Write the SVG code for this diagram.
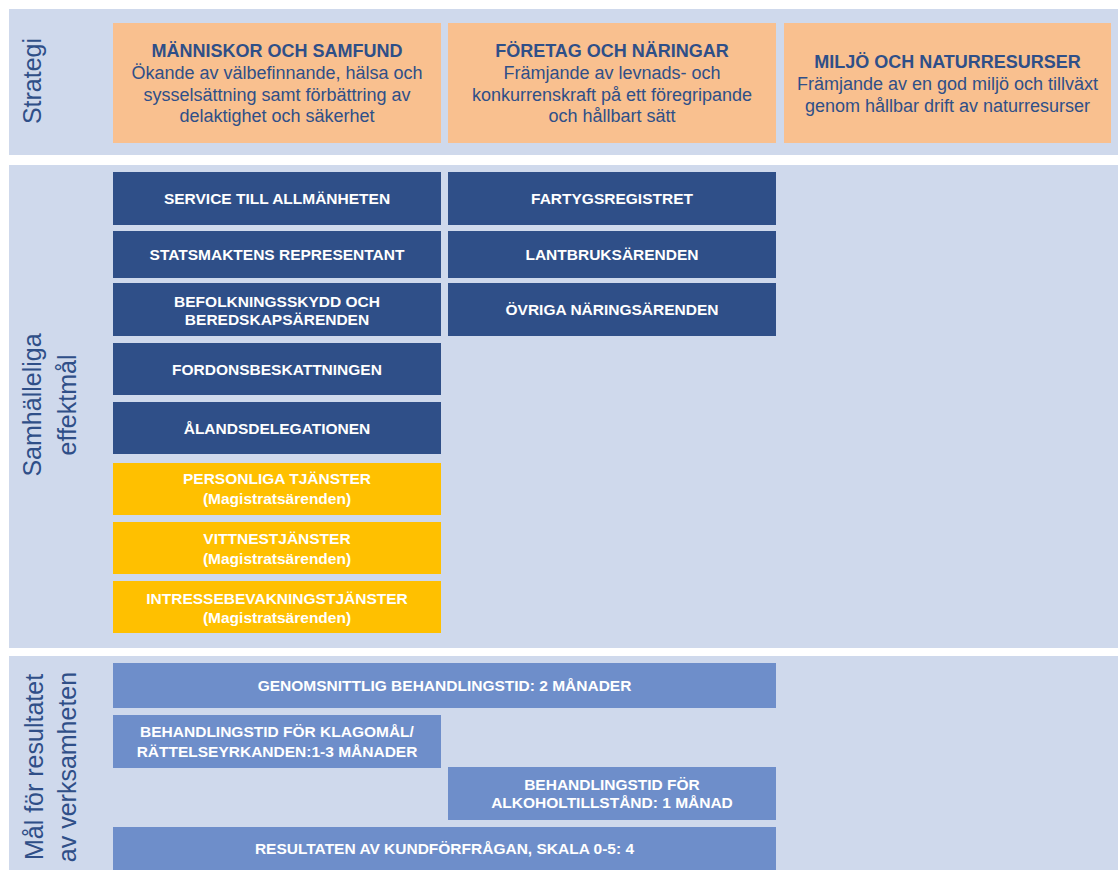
<svg xmlns="http://www.w3.org/2000/svg" width="1118" height="870" viewBox="0 0 1118 870">
<style>
text{font-family:"Liberation Sans",Arial,sans-serif}
.panel{fill:#CFD9EC}
.side{fill:#2F4F88;font-size:25px;text-anchor:middle}
.org{fill:#F9C08F}
.oT{fill:#2F4F88;font-size:18px;font-weight:bold;text-anchor:middle}
.oB{fill:#2F4F88;font-size:18px;text-anchor:middle}
.dk{fill:#2F4F88}
.yl{fill:#FFC000}
.md{fill:#6E8ECA}
.bt{fill:#FFFFFF;font-size:15.5px;font-weight:bold;text-anchor:middle}
</style>
<g id="panels">
<rect class="panel" x="9" y="9" width="1109" height="146"/>
<rect class="panel" x="9" y="165" width="1109" height="483"/>
<rect class="panel" x="9" y="656" width="1109" height="214"/>
</g>
<g id="label-strategi"><text class="side" transform="translate(41,81) rotate(-90)">Strategi</text></g>
<g id="label-effektmal">
<text class="side" transform="translate(41,405) rotate(-90)">Samhälleliga</text>
<text class="side" transform="translate(76,405) rotate(-90)">effektmål</text>
</g>
<g id="label-resultat">
<text class="side" transform="translate(43,767) rotate(-90)">Mål för resultatet</text>
<text class="side" transform="translate(76,767) rotate(-90)">av verksamheten</text>
</g>
<g id="s1"><rect class="org" x="113" y="23" width="328" height="120"/>
<text class="oT" x="277" y="57">MÄNNISKOR OCH SAMFUND</text>
<text class="oB" x="277" y="79">Ökande av välbefinnande, hälsa och</text>
<text class="oB" x="277" y="100.5">sysselsättning samt förbättring av</text>
<text class="oB" x="277" y="122">delaktighet och säkerhet</text></g>
<g id="s2"><rect class="org" x="448" y="23" width="328" height="120"/>
<text class="oT" x="612" y="57">FÖRETAG OCH NÄRINGAR</text>
<text class="oB" x="612" y="79">Främjande av levnads- och</text>
<text class="oB" x="612" y="100.5">konkurrenskraft på ett föregripande</text>
<text class="oB" x="612" y="122">och hållbart sätt</text></g>
<g id="s3"><rect class="org" x="784" y="23" width="327" height="120"/>
<text class="oT" x="947.5" y="68">MILJÖ OCH NATURRESURSER</text>
<text class="oB" x="947.5" y="90">Främjande av en god miljö och tillväxt</text>
<text class="oB" x="947.5" y="111.5">genom hållbar drift av naturresurser</text></g>
<g id="e1"><rect class="dk" x="113" y="172" width="328" height="53"/><text class="bt" x="277" y="204">SERVICE TILL ALLMÄNHETEN</text></g>
<g id="e2"><rect class="dk" x="113" y="231" width="328" height="47"/><text class="bt" x="277" y="260">STATSMAKTENS REPRESENTANT</text></g>
<g id="e3"><rect class="dk" x="113" y="283" width="328" height="53"/><text class="bt" x="277" y="306.5">BEFOLKNINGSSKYDD OCH</text><text class="bt" x="277" y="325">BEREDSKAPSÄRENDEN</text></g>
<g id="e4"><rect class="dk" x="113" y="343" width="328" height="52"/><text class="bt" x="277" y="374.5">FORDONSBESKATTNINGEN</text></g>
<g id="e5"><rect class="dk" x="113" y="402" width="328" height="52"/><text class="bt" x="277" y="433.5">ÅLANDSDELEGATIONEN</text></g>
<g id="y1"><rect class="yl" x="113" y="463" width="328" height="52"/><text class="bt" x="277" y="484.3">PERSONLIGA TJÄNSTER</text><text class="bt" x="277" y="504">(Magistratsärenden)</text></g>
<g id="y2"><rect class="yl" x="113" y="522" width="328" height="52"/><text class="bt" x="277" y="544">VITTNESTJÄNSTER</text><text class="bt" x="277" y="563.5">(Magistratsärenden)</text></g>
<g id="y3"><rect class="yl" x="113" y="581" width="328" height="52"/><text class="bt" x="277" y="603.5">INTRESSEBEVAKNINGSTJÄNSTER</text><text class="bt" x="277" y="623.3">(Magistratsärenden)</text></g>
<g id="f1"><rect class="dk" x="448" y="172" width="328" height="53"/><text class="bt" x="612" y="204">FARTYGSREGISTRET</text></g>
<g id="f2"><rect class="dk" x="448" y="231" width="328" height="47"/><text class="bt" x="612" y="260">LANTBRUKSÄRENDEN</text></g>
<g id="f3"><rect class="dk" x="448" y="283" width="328" height="53"/><text class="bt" x="612" y="315">ÖVRIGA NÄRINGSÄRENDEN</text></g>
<g id="r1"><rect class="md" x="113" y="663" width="663" height="45"/><text class="bt" x="444.5" y="690.7">GENOMSNITTLIG BEHANDLINGSTID: 2 MÅNADER</text></g>
<g id="r2"><rect class="md" x="113" y="715" width="328" height="53"/><text class="bt" x="277" y="736.7">BEHANDLINGSTID FÖR KLAGOMÅL/</text><text class="bt" x="277" y="756.5">RÄTTELSEYRKANDEN:1-3 MÅNADER</text></g>
<g id="r3"><rect class="md" x="448" y="767" width="328" height="53"/><text class="bt" x="612" y="790">BEHANDLINGSTID FÖR</text><text class="bt" x="612" y="808">ALKOHOLTILLSTÅND: 1 MÅNAD</text></g>
<g id="r4"><rect class="md" x="113" y="827" width="663" height="43"/><text class="bt" x="444.5" y="854.3">RESULTATEN AV KUNDFÖRFRÅGAN, SKALA 0-5: 4</text></g>
<g id="connectors"/>
</svg>
